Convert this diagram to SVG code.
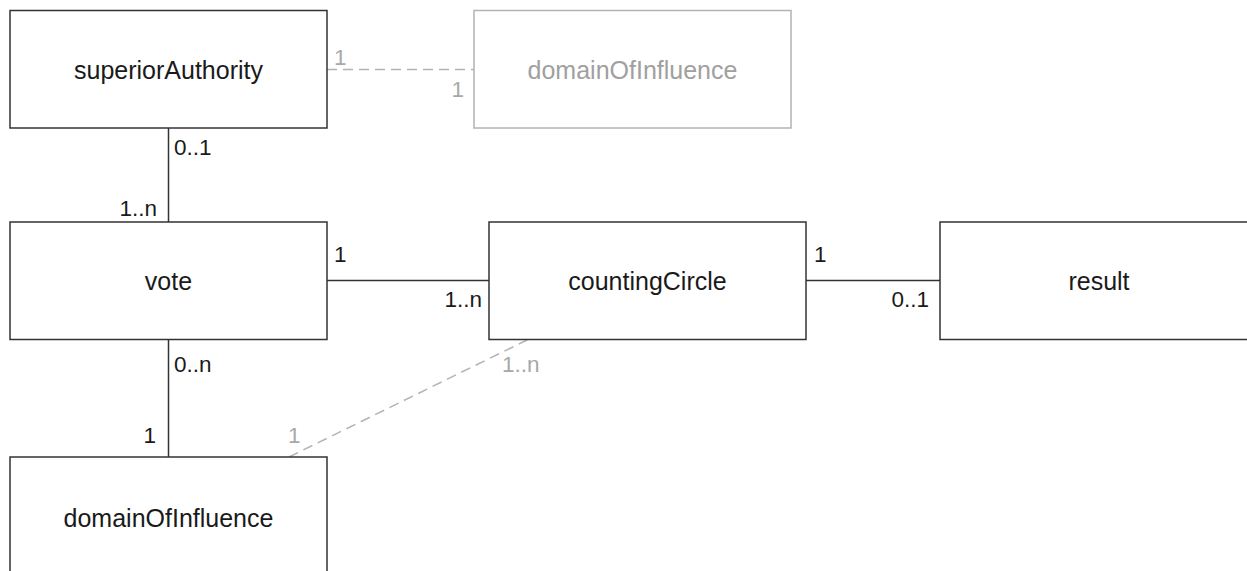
<svg xmlns="http://www.w3.org/2000/svg" width="1247" height="571" viewBox="0 0 1247 571">
  <style>
    .box { fill: #ffffff; stroke: #333333; stroke-width: 1.5; }
    .box.ghost { stroke: #b3b3b3; }
    .name { font-family: "Liberation Sans", Arial, sans-serif; font-size: 25px; fill: #1a1a1a; text-anchor: middle; }
    .name.ghost { fill: #a0a0a0; }
    .link { stroke: #333333; stroke-width: 1.5; fill: none; }
    .link.ghost { stroke: #b3b3b3; stroke-dasharray: 10 6; }
    .card { font-family: "Liberation Sans", Arial, sans-serif; font-size: 22.5px; fill: #1a1a1a; }
    .card.ghost { fill: #a8a8a8; }
    .end { text-anchor: end; }
  </style>

  <!-- associations -->
  <g id="connectors">
    <line class="link" x1="168.5" y1="128" x2="168.5" y2="222"/>
    <line class="link" x1="327" y1="280.5" x2="489" y2="280.5"/>
    <line class="link" x1="806" y1="280.5" x2="940" y2="280.5"/>
    <line class="link" x1="168.5" y1="340" x2="168.5" y2="457"/>
    <line class="link ghost" x1="327" y1="69.5" x2="474" y2="69.5"/>
    <line class="link ghost" x1="289" y1="457" x2="527" y2="340"/>

    <text class="card" x="174" y="155">0..1</text>
    <text class="card end" x="157" y="216">1..n</text>
    <text class="card" x="334" y="262">1</text>
    <text class="card end" x="482" y="307">1..n</text>
    <text class="card" x="814" y="262">1</text>
    <text class="card end" x="929" y="307">0..1</text>
    <text class="card" x="174" y="372">0..n</text>
    <text class="card end" x="156" y="443">1</text>
    <text class="card ghost" x="334" y="65">1</text>
    <text class="card ghost end" x="464" y="97">1</text>
    <text class="card ghost" x="502" y="372">1..n</text>
    <text class="card ghost" x="288" y="443">1</text>
  </g>

  <g id="superiorAuthority">
    <rect class="box" x="10" y="10.5" width="317" height="117.5"/>
    <text class="name" x="168.5" y="79">superiorAuthority</text>
  </g>

  <g id="domainOfInfluenceRef">
    <rect class="box ghost" x="474" y="10.5" width="317" height="117.5"/>
    <text class="name ghost" x="632.5" y="79">domainOfInfluence</text>
  </g>

  <g id="vote">
    <rect class="box" x="10" y="222" width="317" height="117.5"/>
    <text class="name" x="168.5" y="290">vote</text>
  </g>

  <g id="countingCircle">
    <rect class="box" x="489" y="222" width="317" height="117.5"/>
    <text class="name" x="647.5" y="290">countingCircle</text>
  </g>

  <g id="result">
    <rect class="box" x="940" y="222" width="318" height="117.5"/>
    <text class="name" x="1099" y="290">result</text>
  </g>

  <g id="domainOfInfluence">
    <rect class="box" x="10" y="457" width="317" height="120"/>
    <text class="name" x="168.5" y="527">domainOfInfluence</text>
  </g>
</svg>
